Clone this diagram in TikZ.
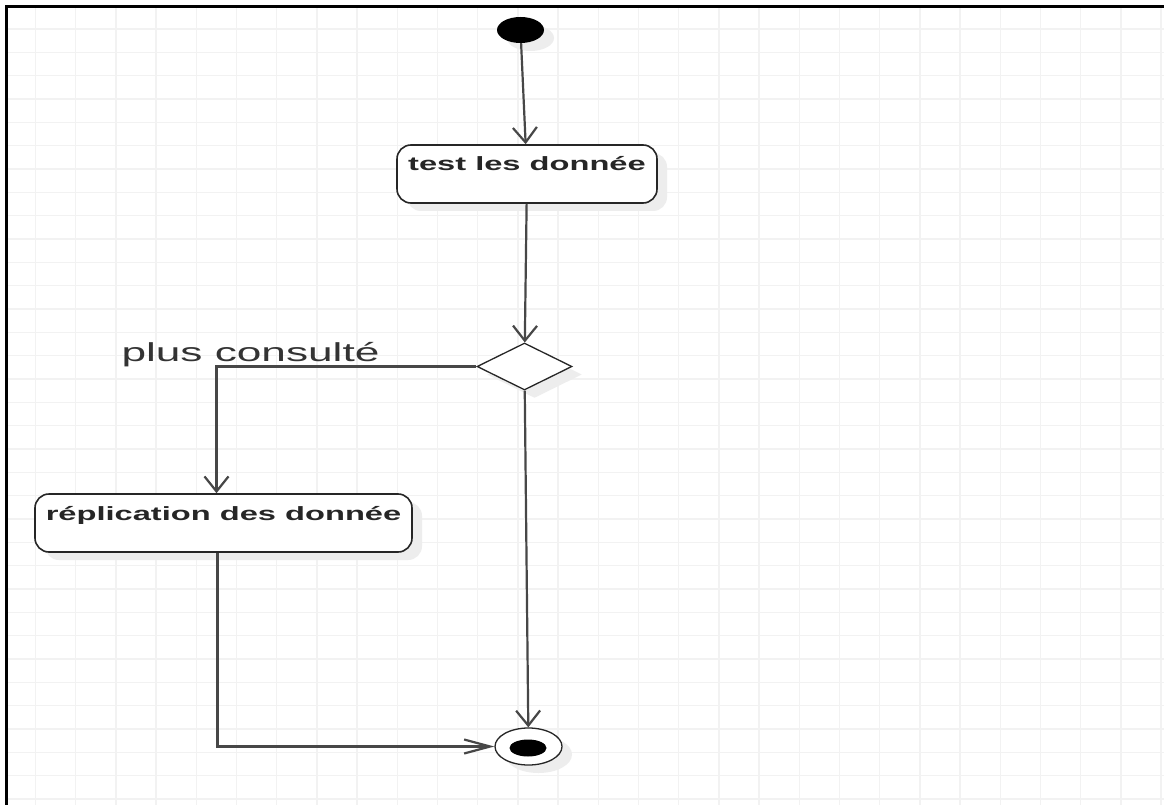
\documentclass[tikz,border=0pt]{standalone}
\usepackage{fontspec}
\setmainfont{Liberation Sans}
\usepackage{graphicx}
\usetikzlibrary{shapes.geometric,shadows,arrows.meta}
\newcommand{\wide}[1]{\scalebox{1.7}[1]{#1}}

\begin{document}
\begin{tikzpicture}[x=1pt,y=-1pt,
		gridline/.style={line width=1.5pt, color=black!5},
		softshadow/.style={drop shadow={shadow xshift=10pt, shadow yshift=-8pt, fill=black!7, opacity=1}},
		action/.style={draw=black!85, line width=1.6pt, rounded corners=14pt, fill=white, softshadow, inner xsep=6pt, inner ysep=4pt, minimum height=58pt, text height=22pt, text depth=28pt, font=\fontsize{19.2}{23}\selectfont\bfseries, text=black!85},
		choice/.style={diamond, draw=black!85, line width=1.3pt, fill=white, softshadow, minimum width=95pt, minimum height=47pt, inner sep=0pt},
		flowv/.style={-{Straight Barb[length=15pt, width=24pt]}, line width=2.2pt, color=black!72},
		flowh/.style={-{Straight Barb[length=26pt, width=14pt]}, line width=2.2pt, color=black!72}]

		\useasboundingbox (0,0) rectangle (1164,805);
		\fill[white] (0,0) rectangle (1164,805);
		\foreach \gx in {0,...,28}
			\draw[gridline] ({35.5+40.2*\gx},6) -- ({35.5+40.2*\gx},805);
		\foreach \gy in {1,...,34}
			\draw[gridline] (6,{5.7+23.33*\gy}) -- (1164,{5.7+23.33*\gy});
		\draw[line width=3pt] (6.5,805) -- (6.5,6.5) -- (1164,6.5);

		\node[ellipse, fill=black, softshadow, minimum width=47pt, minimum height=26pt, inner sep=0pt] (start) at (520.5,30) {};
		\node[action, minimum width=260pt] (test) at (527,174) {\wide{test les donnée}};
		\node[choice] (dec) at (524.5,366.5) {};
		\node[action, minimum width=377pt] (repl) at (223.5,523) {\wide{réplication des donnée}};
		\node[ellipse, draw=black!85, line width=1.3pt, fill=white, softshadow, minimum width=67pt, minimum height=37pt, inner sep=0pt] (end) at (528.5,746.5) {};
		\node[ellipse, fill=black, minimum width=37pt, minimum height=17pt, inner sep=0pt] (endcore) at (528,748) {};

		\node[anchor=base, font=\fontsize{26}{30}\selectfont, text=black!80] (consulte) at (250.5,361) {\wide{plus consulté}};

		\draw[flowv] (start) -- (test);
		\draw[flowv] (test) -- (dec);
		\draw[flowv] (dec.west) -| ([xshift=-7pt]repl.north);
		\draw[flowh] ([xshift=-6pt]repl.south) |- (end.west);
		\draw[flowv] (dec) -- (end);
	\end{tikzpicture}
\end{document}
